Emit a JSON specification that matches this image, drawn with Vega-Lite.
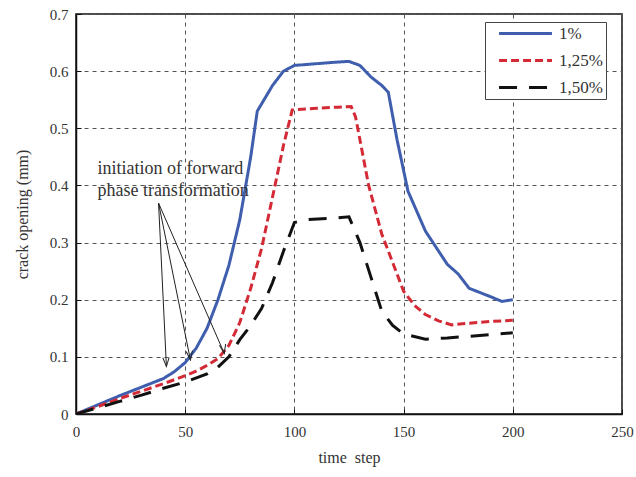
{
  "$schema": "https://vega.github.io/schema/vega-lite/v6.json",
  "width": 546,
  "height": 400,
  "autosize": {"type": "none"},
  "padding": {"left": 76, "top": 14, "right": 14, "bottom": 63},
  "background": "white",
  "config": {
    "view": {"stroke": "#111", "strokeWidth": 1.5},
    "font": "Liberation Serif",
    "axis": {
      "domainColor": "#111", "domainWidth": 1.5,
      "gridColor": "#555", "gridDash": [4, 4], "gridWidth": 1, "gridOpacity": 1,
      "tickColor": "#111", "tickSize": -5,
      "labelFont": "Liberation Serif", "labelFontSize": 15, "labelColor": "#333",
      "titleFont": "Liberation Serif", "titleFontSize": 16, "titleFontWeight": "normal", "titleColor": "#333"
    },
    "legend": {
      "orient": "none", "legendX": 409, "legendY": 8,
      "strokeColor": "#444", "fillColor": "white", "padding": 3,
      "symbolType": "M-5,0H5", "symbolSize": 112, "symbolStrokeWidth": 3, "symbolOffset": 29,
      "labelFont": "Liberation Serif", "labelFontSize": 17, "labelColor": "#333",
      "rowPadding": 9, "labelOffset": 25,
      "labelExpr": "datum.label + '\u00a0\u00a0\u00a0'"
    }
  },
  "datasets": {
    "curves": [
      {"t": 0, "v": 0, "s": "1%"}, {"t": 10, "v": 0.016, "s": "1%"}, {"t": 20, "v": 0.032, "s": "1%"}, {"t": 30, "v": 0.047, "s": "1%"}, {"t": 40, "v": 0.062, "s": "1%"}, {"t": 45, "v": 0.074, "s": "1%"}, {"t": 50, "v": 0.09, "s": "1%"}, {"t": 55, "v": 0.115, "s": "1%"}, {"t": 60, "v": 0.15, "s": "1%"}, {"t": 65, "v": 0.2, "s": "1%"}, {"t": 70, "v": 0.26, "s": "1%"}, {"t": 75, "v": 0.34, "s": "1%"}, {"t": 80, "v": 0.45, "s": "1%"}, {"t": 83, "v": 0.53, "s": "1%"}, {"t": 90, "v": 0.575, "s": "1%"}, {"t": 95, "v": 0.6, "s": "1%"}, {"t": 100, "v": 0.61, "s": "1%"}, {"t": 110, "v": 0.613, "s": "1%"}, {"t": 120, "v": 0.616, "s": "1%"}, {"t": 125, "v": 0.617, "s": "1%"}, {"t": 130, "v": 0.61, "s": "1%"}, {"t": 135, "v": 0.59, "s": "1%"}, {"t": 140, "v": 0.575, "s": "1%"}, {"t": 143, "v": 0.563, "s": "1%"}, {"t": 147, "v": 0.48, "s": "1%"}, {"t": 152, "v": 0.39, "s": "1%"}, {"t": 160, "v": 0.32, "s": "1%"}, {"t": 170, "v": 0.262, "s": "1%"}, {"t": 175, "v": 0.245, "s": "1%"}, {"t": 180, "v": 0.22, "s": "1%"}, {"t": 190, "v": 0.205, "s": "1%"}, {"t": 195, "v": 0.197, "s": "1%"}, {"t": 200, "v": 0.2, "s": "1%"},
      {"t": 0, "v": 0, "s": "1,25%"}, {"t": 10, "v": 0.013, "s": "1,25%"}, {"t": 20, "v": 0.027, "s": "1,25%"}, {"t": 30, "v": 0.04, "s": "1,25%"}, {"t": 40, "v": 0.053, "s": "1,25%"}, {"t": 50, "v": 0.067, "s": "1,25%"}, {"t": 55, "v": 0.075, "s": "1,25%"}, {"t": 60, "v": 0.085, "s": "1,25%"}, {"t": 65, "v": 0.097, "s": "1,25%"}, {"t": 70, "v": 0.12, "s": "1,25%"}, {"t": 75, "v": 0.16, "s": "1,25%"}, {"t": 80, "v": 0.22, "s": "1,25%"}, {"t": 85, "v": 0.29, "s": "1,25%"}, {"t": 90, "v": 0.38, "s": "1,25%"}, {"t": 95, "v": 0.47, "s": "1,25%"}, {"t": 99, "v": 0.532, "s": "1,25%"}, {"t": 110, "v": 0.535, "s": "1,25%"}, {"t": 120, "v": 0.537, "s": "1,25%"}, {"t": 126, "v": 0.538, "s": "1,25%"}, {"t": 128, "v": 0.52, "s": "1,25%"}, {"t": 134, "v": 0.4, "s": "1,25%"}, {"t": 140, "v": 0.315, "s": "1,25%"}, {"t": 145, "v": 0.265, "s": "1,25%"}, {"t": 150, "v": 0.215, "s": "1,25%"}, {"t": 155, "v": 0.19, "s": "1,25%"}, {"t": 160, "v": 0.174, "s": "1,25%"}, {"t": 166, "v": 0.163, "s": "1,25%"}, {"t": 172, "v": 0.156, "s": "1,25%"}, {"t": 180, "v": 0.159, "s": "1,25%"}, {"t": 190, "v": 0.162, "s": "1,25%"}, {"t": 200, "v": 0.164, "s": "1,25%"},
      {"t": 0, "v": 0, "s": "1,50%"}, {"t": 10, "v": 0.011, "s": "1,50%"}, {"t": 20, "v": 0.022, "s": "1,50%"}, {"t": 30, "v": 0.033, "s": "1,50%"}, {"t": 40, "v": 0.045, "s": "1,50%"}, {"t": 50, "v": 0.056, "s": "1,50%"}, {"t": 60, "v": 0.07, "s": "1,50%"}, {"t": 65, "v": 0.082, "s": "1,50%"}, {"t": 70, "v": 0.1, "s": "1,50%"}, {"t": 75, "v": 0.13, "s": "1,50%"}, {"t": 80, "v": 0.155, "s": "1,50%"}, {"t": 85, "v": 0.185, "s": "1,50%"}, {"t": 90, "v": 0.23, "s": "1,50%"}, {"t": 95, "v": 0.285, "s": "1,50%"}, {"t": 100, "v": 0.335, "s": "1,50%"}, {"t": 105, "v": 0.34, "s": "1,50%"}, {"t": 115, "v": 0.342, "s": "1,50%"}, {"t": 125, "v": 0.345, "s": "1,50%"}, {"t": 130, "v": 0.3, "s": "1,50%"}, {"t": 135, "v": 0.24, "s": "1,50%"}, {"t": 140, "v": 0.18, "s": "1,50%"}, {"t": 145, "v": 0.155, "s": "1,50%"}, {"t": 150, "v": 0.14, "s": "1,50%"}, {"t": 160, "v": 0.131, "s": "1,50%"}, {"t": 170, "v": 0.133, "s": "1,50%"}, {"t": 180, "v": 0.136, "s": "1,50%"}, {"t": 190, "v": 0.139, "s": "1,50%"}, {"t": 200, "v": 0.142, "s": "1,50%"}
    ],
    "notes": [
      {"x": 9.8, "y": 0.429, "label": "initiation of forward"},
      {"x": 9.8, "y": 0.39, "label": "phase transformation"}
    ],
    "arrows": [
      {"x0": 37.8, "y0": 0.369, "x1": 41.4, "y1": 0.083, "k": "a"},
      {"x0": 37.8, "y0": 0.369, "x1": 52.4, "y1": 0.0945, "k": "b"},
      {"x0": 37.8, "y0": 0.369, "x1": 67.9, "y1": 0.106, "k": "c"}
    ]
  },
  "layer": [
    {
      "data": {"name": "curves"},
      "mark": {"type": "line", "strokeWidth": 3, "clip": true},
      "encoding": {
        "x": {"field": "t", "type": "quantitative", "scale": {"domain": [0, 250], "nice": false},
              "axis": {"values": [0, 50, 100, 150, 200, 250], "title": "time\u00a0\u00a0step", "labelPadding": 15, "titlePadding": 10, "labelFlush": false}},
        "y": {"field": "v", "type": "quantitative", "scale": {"domain": [0, 0.7], "nice": false},
              "axis": {"values": [0, 0.1, 0.2, 0.3, 0.4, 0.5, 0.6, 0.7], "format": ".1~f", "title": "crack opening (mm)", "labelPadding": 13, "titlePadding": 19, "labelFlush": false}},
        "color": {"field": "s", "type": "nominal", "title": null,
                  "scale": {"domain": ["1%", "1,25%", "1,50%"], "range": ["#3f5fae", "#d42a36", "#111111"]}},
        "strokeDash": {"field": "s", "type": "nominal", "title": null,
                  "scale": {"domain": ["1%", "1,25%", "1,50%"], "range": [[1, 0], [8, 4], [18, 12]]}},
        "order": {"field": "t", "type": "quantitative"}
      }
    },
    {
      "data": {"name": "notes"},
      "mark": {"type": "text", "align": "left", "baseline": "middle", "font": "Liberation Serif", "fontSize": 18, "color": "#333"},
      "encoding": {
        "x": {"field": "x", "type": "quantitative"},
        "y": {"field": "y", "type": "quantitative"},
        "text": {"field": "label"}
      }
    },
    {
      "data": {"name": "arrows"},
      "mark": {"type": "rule", "color": "#222", "strokeWidth": 1},
      "encoding": {
        "x": {"field": "x0", "type": "quantitative"},
        "y": {"field": "y0", "type": "quantitative"},
        "x2": {"field": "x1"},
        "y2": {"field": "y1"}
      }
    },
    {
      "data": {"name": "arrows"},
      "mark": {"type": "point", "shape": "M-0.35,-1L0,0L0.35,-1", "filled": false, "stroke": "#222", "strokeWidth": 1, "size": 324, "opacity": 1},
      "encoding": {
        "x": {"field": "x1", "type": "quantitative"},
        "y": {"field": "y1", "type": "quantitative"},
        "angle": {"field": "k", "type": "nominal", "legend": null, "scale": {"domain": ["a", "b", "c"], "range": [357.3, 348.6, 336.4]}}
      }
    }
  ]
}
